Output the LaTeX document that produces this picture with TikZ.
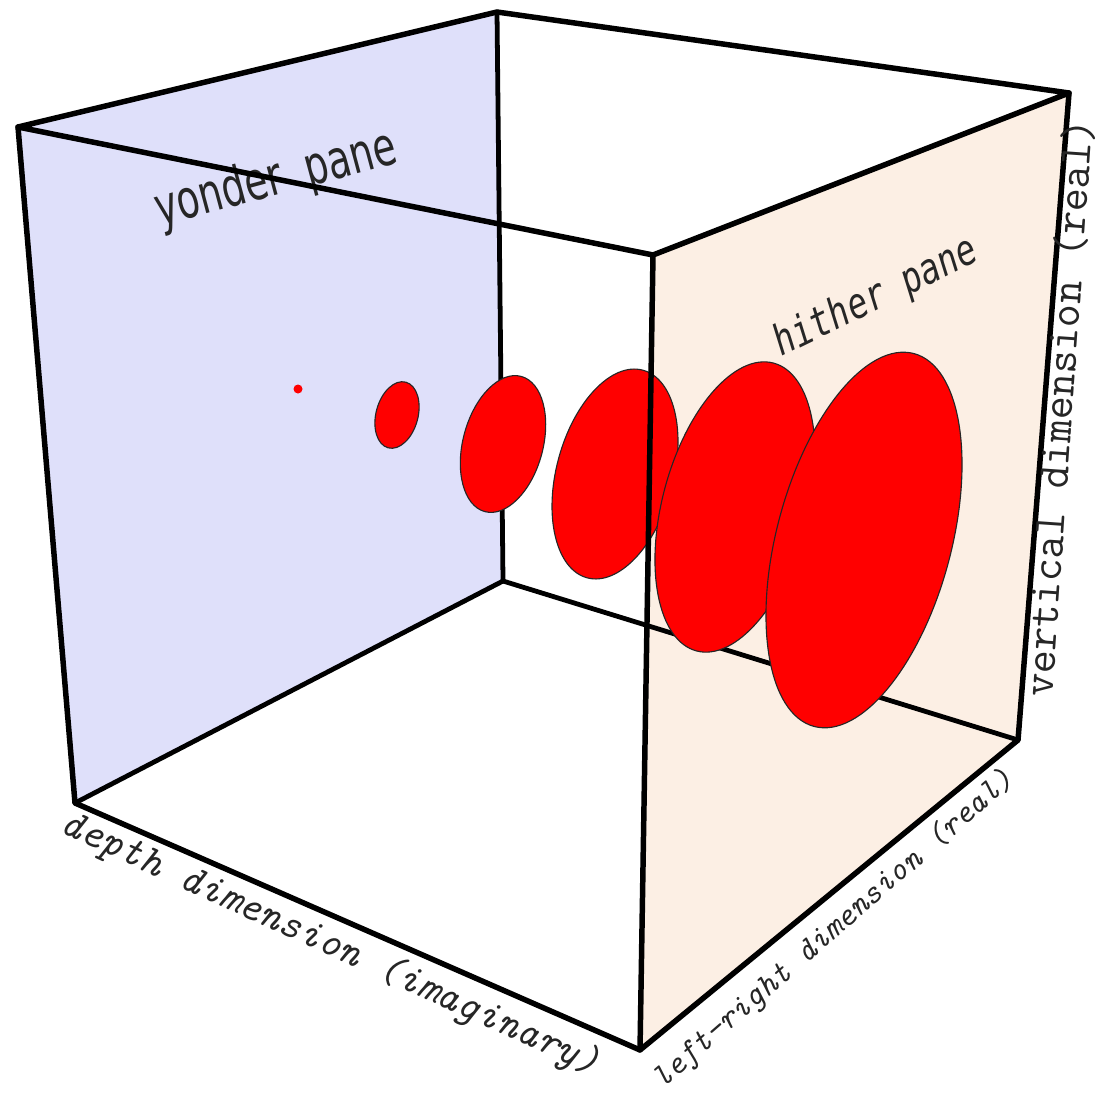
\documentclass[tikz,border=0pt]{standalone}
\usepackage{fontspec}
\usepackage{graphicx}
\newfontfamily\yonderfont{DejaVu Sans}
\newfontfamily\hitherfont{DejaVu Sans Mono}
\definecolor{yondercol}{RGB}{223,224,250}
\definecolor{hithercol}{RGB}{252,239,228}
\definecolor{discred}{RGB}{255,0,0}
\begin{document}
\begin{tikzpicture}[x=0.025cm,y=-0.025cm,
  edge/.style={line width=3.9pt, line join=round, line cap=round},
  backedge/.style={line width=3.4pt, line join=round, line cap=round},
  disc/.style={fill=discred, draw=black!85, line width=0.8pt},
  panelabel/.style={inner sep=0pt, text=black!85},
  axislabel/.style={inner sep=0pt, text=black!85}]
\useasboundingbox (0,0) rectangle (1102,1096);
\fill[white] (0,0) rectangle (1102,1096);
% cube vertices
\coordinate (TL) at (18,127);
\coordinate (TB) at (497,12);
\coordinate (TR) at (1069,93);
\coordinate (FT) at (653,255);
\coordinate (BL) at (75,803);
\coordinate (BB) at (503,581);
\coordinate (BR) at (1018,740);
\coordinate (FB) at (640,1050);
% panes
\fill[yondercol] (TL) -- (TB) -- (BB) -- (BL) -- cycle;
\fill[hithercol] (FT) -- (TR) -- (BR) -- (FB) -- cycle;
% pane labels
\node[panelabel, rotate=15] (yonder) at (276,180)
  {\scalebox{0.7}[1]{\yonderfont\fontsize{38}{38}\selectfont yonder\ \ pane}};
\node[panelabel, rotate=26] (hither) at (876,298)
  {\scalebox{0.95}[1.2]{\hitherfont\itshape\fontsize{25}{25}\selectfont hither pane}};
% hidden (back) edges
\draw[backedge] (TB) -- (BB);
\draw[backedge] (BL) -- (BB);
\draw[backedge] (BB) -- (BR);
% discs
\fill[discred] (298,389) circle[radius=4.5];
\draw[disc, rotate around={-15:(397,415)}] (397,415) ellipse[x radius=21, y radius=34];
\draw[disc, rotate around={-15:(503,444)}] (503,444) ellipse[x radius=40, y radius=70];
\draw[disc, rotate around={-15:(615,474)}] (615,474) ellipse[x radius=58.5, y radius=107.5];
\draw[disc, rotate around={-15:(735,507)}] (735,507) ellipse[x radius=72.6, y radius=149];
\draw[disc, rotate around={-15:(864,540)}] (864,540) ellipse[x radius=87.3, y radius=193];
% visible edges
\draw[edge] (TL) -- (TB) -- (TR) -- (FT) -- cycle;
\draw[edge] (TL) -- (BL) -- (FB) -- (BR) -- (TR);
\draw[edge] (FT) -- (FB);
% axis labels
\node[axislabel, rotate=-24.5] (depth) at (330,945)
  {\ttfamily\itshape\fontsize{29.5}{29.5}\selectfont depth dimension (imaginary)};
\node[axislabel, rotate=41] (leftright) at (834,930)
  {\ttfamily\itshape\fontsize{23.5}{23.5}\selectfont left-right dimension (real)};
\node[axislabel, rotate=86] (vertical) at (1059,408)
  {\ttfamily\fontsize{32}{32}\selectfont vertical dimension (real)};
\end{tikzpicture}
\end{document}
